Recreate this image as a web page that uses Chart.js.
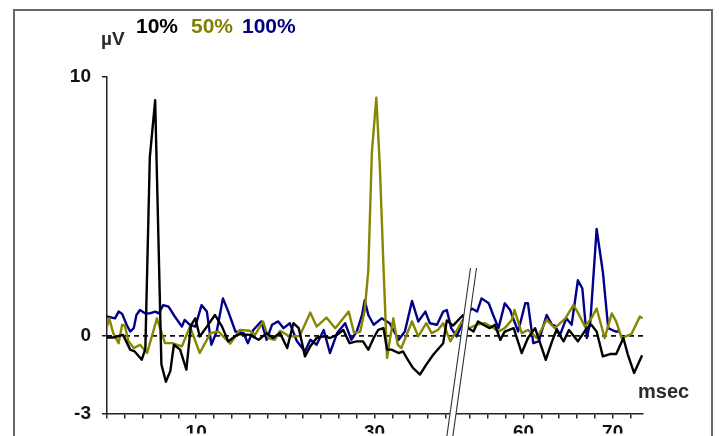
<!DOCTYPE html>
<html>
<head>
<meta charset="utf-8">
<script src="https://cdn.jsdelivr.net/npm/chart.js@4.4.0/dist/chart.umd.min.js"></script>
<style>
  html, body { margin: 0; padding: 0; background: #ffffff; }
  #c { display: block; }
</style>
</head>
<body>
<canvas id="c" width="719" height="436"></canvas>
<script>
// ---- data (time in msec, amplitude in µV) ----
const seriesNames = ['10%', '50%', '100%'];
const seriesColors = ['#000000', '#868600', '#00008b'];

const blackT = [0, 0.7, 1.8, 2.6, 3.1, 3.9, 4.3, 4.8, 5.4, 6.1, 6.6, 7.1, 7.5, 8.2, 8.9, 9.4, 9.9, 10.4, 11.2, 12.1,
  12.9, 13.6, 14.4, 14.9, 16.0, 17.0, 17.9, 18.6, 19.4, 20.2, 20.9, 21.5, 22.2, 22.8, 23.5, 24.3, 25.0, 25.8, 26.5, 27.2,
  28.0, 28.7, 29.3, 29.9, 30.4, 31.0, 31.4, 31.9, 32.7, 33.2, 33.6, 34.3, 35.1, 35.8, 36.6, 37.7, 38.1, 38.8, 39.9,
  53.8, 54.4, 54.9, 55.5, 56.2, 56.8, 57.4, 57.9, 58.9, 59.8, 60.5, 61.3, 61.8, 62.5, 63.2, 63.7, 64.5, 65.1, 66.1, 67.1,
  67.6, 68.2, 68.9, 69.7, 70.4, 71.2, 71.7, 72.4, 73.3];
const blackV = [-0.06, -0.06, 0.04, -0.53, -0.6, -0.92, -0.5, 6.9, 9.1, -1.1, -1.77, -1.36, -0.34, -0.53, -1.3, 0.4, 0.68, -0.02, 0.36, 0.81,
  0.36, -0.21, 0, 0.07, 0.04, -0.15, 0.11, -0.08, 0.11, -0.47, 0.49, 0.3, -0.79, -0.4, -0.08, -0.02, -0.08, 0.04, 0.23, -0.28,
  -0.21, -0.21, -0.53, -0.08, 0.23, 0.3, -0.53, -0.53, -0.66, -0.6, -0.85, -1.23, -1.49, -1.11, -0.72, -0.28, 0.6, 0.4, 0.8,
  0.3, 0.17, 0.56, 0.43, 0.3, 0.43, -0.15, 0.17, 0.3, -0.66, -0.08, 0.3, -0.21, -0.92, -0.21, 0.23, -0.21, 0.23, -0.21, 0.3,
  0.43, 0.17, -0.79, -0.7, -0.7, -0.08, -0.72, -1.43, -0.75];

const oliveT = [0, 0.25, 0.7, 1.3, 1.7, 2.0, 2.4, 3.0, 3.7, 4.5, 5.6, 6.5, 7.3, 8.4, 9.3, 10.4, 11.6, 12.5, 13.8, 14.9,
  16.0, 16.6, 17.5, 18.1, 18.8, 19.4, 20.5, 21.6, 22.8, 23.5, 24.6, 25.6, 27.1, 27.7, 28.4, 28.9, 29.3, 29.7, 30.2, 30.6,
  31.0, 31.4, 32.1, 32.6, 33.0, 34.2, 34.9, 35.8, 36.4, 37.1, 37.7, 38.5, 39.2, 39.8,
  53.9, 54.9, 55.7, 56.4, 57.2, 57.9, 58.7, 59.0, 59.8, 60.5, 61.5, 62.6, 63.5, 64.7, 65.6, 66.1, 66.9, 67.6, 68.2, 69.1,
  69.9, 70.4, 71.0, 72.1, 73.05, 73.35];
const oliveV = [0.35, 0.68, 0.11, -0.28, 0.43, 0.4, -0.21, -0.47, -0.34, -0.66, 0.68, -0.28, -0.28, -0.4, 0.36, -0.66, 0.11, 0.17, -0.3, 0.23,
  0.2, 0.04, 0.56, -0.08, -0.15, 0.2, -0.02, 0.0, 0.9, 0.36, 0.71, 0.3, 0.94, 0.11, 0.17, 1.0, 2.53, 7.1, 9.2, 6.5,
  2.68, -0.85, 0.68, -0.34, -0.47, 0.56, -0.02, 0.49, 0.11, 0.23, 0.49, -0.21, 0.2, 0.56,
  0.3, 0.45, 0.49, 0.36, 0.17, 0.3, 0.62, 1.0, 0.11, 0.23, -0.08, 0.62, 0.3, 0.68, 1.19, 0.9, 0.36, 0.68, 1.06, -0.08,
  0.87, 0.55, -0.08, 0.07, 0.75, 0.68];

const blueT = [0, 0.9, 1.3, 1.7, 2.2, 2.6, 3.0, 3.3, 3.7, 4.3, 4.8, 5.4, 5.8, 6.3, 6.9, 7.6, 8.4, 8.7, 9.3, 9.9,
  10.6, 11.2, 11.7, 12.3, 13.0, 13.6, 14.4, 15.3, 15.8, 16.4, 17.3, 17.9, 18.5, 19.2, 19.8, 20.5, 21.3, 22.2, 22.8, 23.5,
  24.3, 25.0, 25.8, 26.7, 27.4, 28.0, 28.6, 28.9, 29.3, 29.9, 30.8, 31.7, 32.7, 33.4, 34.2, 34.9, 35.7, 36.2, 37.0, 37.7,
  38.1, 38.6, 39.2, 39.6, 39.9,
  54.2, 54.8, 55.3, 56.1, 56.6, 57.2, 57.9, 58.5, 59.4, 60.2, 60.5, 61.1, 61.7, 62.6, 63.2, 63.5, 64.1, 64.8, 65.4, 66.1,
  66.6, 67.1, 67.5, 68.2, 68.9, 69.5, 70.3, 70.8];
const blueV = [0.75, 0.68, 0.94, 0.85, 0.43, 0.17, 0.3, 0.81, 1.0, 0.87, 0.87, 0.94, 0.87, 1.19, 1.13, 0.75, 0.36, 0.62, 0.43, 0.36,
  1.19, 0.94, -0.34, 0.17, 1.45, 0.94, 0.17, 0.11, -0.28, 0.23, 0.56, -0.15, 0.43, 0.56, 0.3, 0.49, -0.21, -0.6, -0.15, -0.34,
  0.23, -0.66, 0.11, 0.49, -0.15, 0.17, 0.81, 1.38, 0.81, 0.43, 0.68, 0.49, -0.15, 0.17, 1.35, 0.56, 0.94, 0.49, 0.43, 0.94,
  1.0, 0.3, -0.02, 0.3, 0.6,
  1.06, 0.94, 1.45, 1.26, 0.81, 0.3, 1.26, 1.0, 0.17, 1.26, 1.26, -0.28, -0.21, 0.81, 0.43, 0.4, 0.04, 0.68, 0.43, 2.15,
  1.83, -0.08, 0.56, 4.13, 2.47, 0.3, 0.17, 0.17];

// axis ticks (msec) and labels
const xTickMsec = [0, 2, 4, 6, 8, 10, 12, 14, 16, 18, 20, 22, 24, 26, 28, 30, 32, 34, 36, 38,
  54, 56, 58, 60, 62, 64, 66, 68, 70, 72];
const xTickLabels = [10, 30, 60, 70];
const yTickValues = [-3, 0, 10];
const yMin = -3, yMax = 10;
const xAxisLabel = 'msec';
const yAxisLabel = 'µV';

// broken time axis: the span between BREAK_AT and BREAK_AT + BREAK_GAP msec is cut out
const BREAK_AT = 45;
const BREAK_GAP = 13.3;
const disp = t => (t > BREAK_AT ? t - BREAK_GAP : t);
const xMaxMsec = 73.4;

function toPoints(ts, vs) {
  const n = Math.min(ts.length, vs.length);
  const out = [];
  for (let i = 0; i < n; i++) out.push({ x: disp(ts[i]), y: vs[i] });
  return out;
}

const FONT = "'Liberation Sans', Arial, Helvetica, sans-serif";

const decor = {
  id: 'decor',
  beforeDatasetsDraw(chart) {
    const { ctx, chartArea, scales } = chart;
    const y0 = scales.y.getPixelForValue(0);
    ctx.save();
    ctx.strokeStyle = '#111';
    ctx.lineWidth = 1.6;
    ctx.setLineDash([5, 4]);
    ctx.beginPath();
    ctx.moveTo(chartArea.left, y0);
    ctx.lineTo(chartArea.right, y0);
    ctx.stroke();
    ctx.restore();
  },
  afterDatasetsDraw(chart) {
    const { ctx, chartArea, scales } = chart;
    // axis-break marks "//"
    const xb = scales.x.getPixelForValue(38.8);
    const yb = chartArea.bottom;
    const slope = -0.1406;
    const yTop = 268, yBot = 440;
    const xAt = (off, y) => xb + off + slope * (y - yb);
    ctx.save();
    ctx.fillStyle = '#ffffff';
    ctx.beginPath();
    ctx.moveTo(xAt(-3, yTop), yTop);
    ctx.lineTo(xAt(3, yTop), yTop);
    ctx.lineTo(xAt(3, yBot), yBot);
    ctx.lineTo(xAt(-3, yBot), yBot);
    ctx.closePath();
    ctx.fill();
    ctx.strokeStyle = '#333';
    ctx.lineWidth = 1.1;
    [-3, 3].forEach(off => {
      ctx.beginPath();
      ctx.moveTo(xAt(off, yTop), yTop);
      ctx.lineTo(xAt(off, yBot), yBot);
      ctx.stroke();
    });
    ctx.restore();
  },
  afterDraw(chart) {
    const { ctx } = chart;
    ctx.save();
    // frame
    ctx.strokeStyle = '#686868';
    ctx.lineWidth = 2;
    ctx.strokeRect(14, 10, 698, 520);
    // unit labels
    ctx.textBaseline = 'alphabetic';
    ctx.textAlign = 'left';
    ctx.fillStyle = '#2a2a2a';
    ctx.font = 'bold 19px ' + FONT;
    ctx.fillText(yAxisLabel, 101, 45);
    ctx.font = 'bold 20px ' + FONT;
    ctx.fillText(xAxisLabel, 638, 398);
    // series labels
    ctx.font = 'bold 21px ' + FONT;
    const xs = [136, 191, 242];
    const labelColors = ['#000000', '#808000', '#000080'];
    seriesNames.forEach((name, i) => {
      ctx.fillStyle = labelColors[i];
      ctx.fillText(name, xs[i], 33);
    });
    ctx.restore();
  }
};

const axisCommon = {
  grid: { drawOnChartArea: false, drawTicks: true, tickLength: 5, color: '#222', lineWidth: 1.5 },
  border: { display: true, color: '#222', width: 1.5 },
};

new Chart(document.getElementById('c'), {
  type: 'line',
  data: {
    datasets: [
      { label: seriesNames[0], data: toPoints(blackT, blackV), borderColor: seriesColors[0] },
      { label: seriesNames[1], data: toPoints(oliveT, oliveV), borderColor: seriesColors[1] },
      { label: seriesNames[2], data: toPoints(blueT, blueV), borderColor: seriesColors[2] },
    ].map(d => Object.assign(d, { borderWidth: 2.4, pointRadius: 0, tension: 0, fill: false, borderJoinStyle: 'round' }))
  },
  options: {
    responsive: false,
    animation: false,
    layout: { padding: { left: 0, top: 77, right: 76, bottom: 0 } },
    plugins: { legend: { display: false }, tooltip: { enabled: false }, title: { display: false } },
    scales: {
      x: Object.assign({}, axisCommon, {
        type: 'linear',
        min: 0,
        max: disp(xMaxMsec),
        afterBuildTicks: s => { s.ticks = xTickMsec.map(t => ({ value: disp(t) })); },
        afterFit: s => { s.height = 20; },
        ticks: {
          autoSkip: false, maxRotation: 0, minRotation: 0, padding: 3,
          color: '#111', font: { family: FONT, size: 19, weight: 'bold' },
          callback: (v, i) => (xTickLabels.includes(xTickMsec[i]) ? String(xTickMsec[i]) : '')
        }
      }),
      y: Object.assign({}, axisCommon, {
        min: yMin,
        max: yMax,
        afterBuildTicks: s => { s.ticks = yTickValues.map(v => ({ value: v })); },
        afterFit: s => { s.width = 107; },
        ticks: {
          padding: 11, color: '#111', font: { family: FONT, size: 19, weight: 'bold' },
          callback: v => String(v)
        }
      })
    }
  },
  plugins: [decor]
});
</script>
</body>
</html>
